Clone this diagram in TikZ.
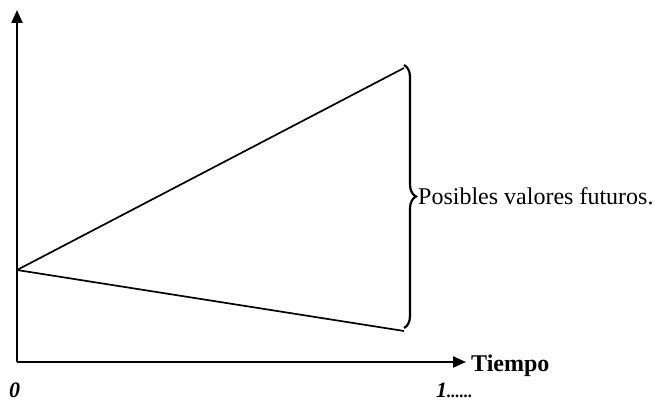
\documentclass[tikz,border=0pt]{standalone}
\usepackage{fontspec}
\setmainfont{Liberation Serif}
\usetikzlibrary{arrows.meta,decorations.pathreplacing}
\begin{document}
\begin{tikzpicture}[x=1pt,y=-1pt,
  axis/.style={line width=2pt,-{Triangle[length=13pt,width=11pt]}},
  ln/.style={line width=1.7pt},
  big/.style={font=\fontsize{24}{28}\selectfont},
  tick/.style={inner sep=0pt,anchor=base west,font=\fontsize{22}{26}\selectfont\bfseries\itshape},
  lbl/.style={inner sep=0pt,big}]
\useasboundingbox (0,0) rectangle (655,401);
\coordinate (o) at (17,362);
\coordinate (ytop) at (17,10);
\coordinate (xend) at (466,362);
\coordinate (s) at (17,270);
\coordinate (up) at (404,68);
\coordinate (down) at (404,331);
\coordinate (bt) at (404,65);
\coordinate (bb) at (404,328);
\draw[axis] (o) -- (ytop);
\draw[axis] (o) -- (xend);
\draw[ln] (s) -- (up);
\draw[ln] (s) -- (down);
\draw[line width=2.2pt,decorate,decoration={brace,amplitude=12pt,aspect=0.5}] (bt) -- (bb);
\node[lbl,anchor=west] (txt) at (418,196) {Posibles valores futuros.};
\node[lbl,anchor=west,font=\fontsize{24}{28}\selectfont\bfseries] (tiempo) at (471,366) {Tiempo};
\node[tick] (zero) at (9,397) {0};
\node[tick] (one) at (436,397) {1{\fontsize{17}{20}\selectfont......}};
\end{tikzpicture}
\end{document}
